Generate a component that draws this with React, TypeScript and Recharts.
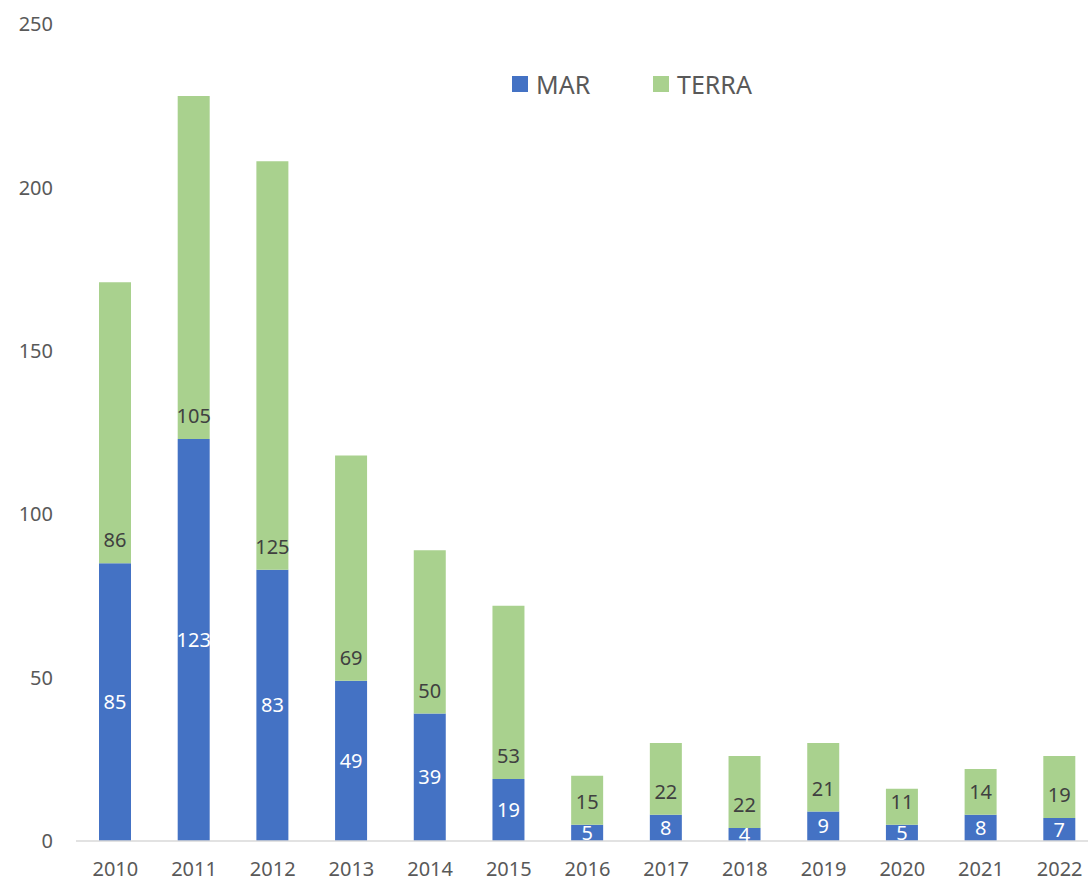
import { BarChart, Bar, XAxis, YAxis, Legend, LabelList } from 'recharts'

const years = ['2010', '2011', '2012', '2013', '2014', '2015', '2016', '2017', '2018', '2019', '2020', '2021', '2022']
const mar = [85, 123, 83, 49, 39, 19, 5, 8, 4, 9, 5, 8, 7]
const terra = [86, 105, 125, 69, 50, 53, 15, 22, 22, 21, 11, 14, 19]
const yTicks = [0, 50, 100, 150, 200, 250]

const FONT = "'Noto Sans', sans-serif"
const BLUE = '#4472C4'
const GREEN = '#A9D18E'

const data = years.map((year, i) => ({ year, MAR: mar[i], TERRA: terra[i] }))

const LegendContent = () => (
  <div style={{ display: 'flex', alignItems: 'center', fontFamily: FONT, fontSize: 25, color: '#595959' }}>
    {[
      { name: 'MAR', color: BLUE },
      { name: 'TERRA', color: GREEN },
    ].map((item) => (
      <div key={item.name} style={{ display: 'flex', alignItems: 'center', width: 141 }}>
        <span style={{ display: 'inline-block', width: 16, height: 16, background: item.color, marginRight: 8 }} />
        <span style={{ lineHeight: '28px' }}>{item.name}</span>
      </div>
    ))}
  </div>
)

export default function App() {
  return (
    <div style={{ position: 'absolute', left: 0, top: 0, width: 1088, height: 883, overflow: 'hidden', background: '#fff' }}>
      <BarChart
        width={1099}
        height={883}
        data={data}
        margin={{ top: 24, right: 0, left: 0, bottom: 0 }}
        style={{ fontFamily: FONT }}
      >
        <XAxis
          dataKey="year"
          height={42}
          axisLine={{ stroke: '#D9D9D9', strokeWidth: 1.5 }}
          tickLine={false}
          tickMargin={15}
          tick={{ fontSize: 20, fill: '#595959', fontFamily: FONT }}
        />
        <YAxis
          width={76}
          domain={[0, 250]}
          ticks={yTicks}
          axisLine={false}
          tickLine={false}
          tickMargin={17}
          tick={{ fontSize: 20, fill: '#595959', fontFamily: FONT }}
        />
        <Legend
          layout="horizontal"
          verticalAlign="middle"
          content={<LegendContent />}
          wrapperStyle={{ top: 70, left: 512, width: 300, height: 30 }}
        />
        <Bar dataKey="MAR" stackId="a" fill={BLUE} barSize={32} isAnimationActive={false}>
          <LabelList dataKey="MAR" position="center" fill="#ffffff" fontSize={20} fontFamily={FONT} />
        </Bar>
        <Bar dataKey="TERRA" stackId="a" fill={GREEN} barSize={32} isAnimationActive={false}>
          <LabelList dataKey="TERRA" position="insideBottom" offset={16} fill="#404040" fontSize={20} fontFamily={FONT} />
        </Bar>
      </BarChart>
    </div>
  )
}
